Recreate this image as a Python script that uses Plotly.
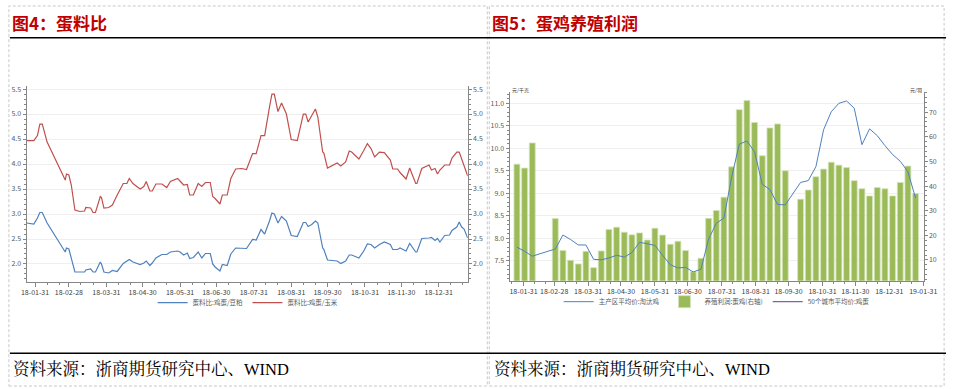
import plotly.graph_objects as go

# ---------------- data: 图4 蛋料比 ----------------
ratio_dates = [
    '2018-01-24', '2018-01-30', '2018-02-02', '2018-02-04', '2018-02-06', '2018-02-10', '2018-02-25', '2018-02-26', '2018-02-28', '2018-03-02',
    '2018-03-05', '2018-03-09', '2018-03-13', '2018-03-14', '2018-03-18', '2018-03-20', '2018-03-22', '2018-03-26', '2018-03-27', '2018-03-29',
    '2018-04-02', '2018-04-05', '2018-04-09', '2018-04-14', '2018-04-17', '2018-04-19', '2018-04-22', '2018-04-25', '2018-04-28', '2018-05-01',
    '2018-05-03', '2018-05-06', '2018-05-08', '2018-05-11', '2018-05-16', '2018-05-20', '2018-05-23', '2018-05-29', '2018-05-31', '2018-06-03',
    '2018-06-06', '2018-06-08', '2018-06-11', '2018-06-15', '2018-06-18', '2018-06-21', '2018-06-25', '2018-06-27', '2018-06-29', '2018-07-03',
    '2018-07-05', '2018-07-09', '2018-07-12', '2018-07-16', '2018-07-21', '2018-07-25', '2018-07-30', '2018-08-02', '2018-08-06', '2018-08-09',
    '2018-08-13', '2018-08-15', '2018-08-17', '2018-08-20', '2018-08-23', '2018-08-27', '2018-08-31', '2018-09-05', '2018-09-10', '2018-09-12',
    '2018-09-14', '2018-09-17', '2018-09-20', '2018-09-22', '2018-09-26', '2018-09-27', '2018-09-30', '2018-10-08', '2018-10-11', '2018-10-15',
    '2018-10-18', '2018-10-20', '2018-10-26', '2018-10-30', '2018-11-02', '2018-11-05', '2018-11-08', '2018-11-12', '2018-11-16', '2018-11-21',
    '2018-11-23', '2018-11-27', '2018-11-29', '2018-12-04', '2018-12-07', '2018-12-12', '2018-12-13', '2018-12-17', '2018-12-23', '2018-12-25',
    '2018-12-28', '2018-12-30', '2019-01-01', '2019-01-05', '2019-01-09', '2019-01-11', '2019-01-15', '2019-01-17', '2019-01-19', '2019-01-21',
    '2019-01-24']

ratio_egg_soymeal = [
    2.82, 2.80, 2.92, 3.03, 3.03, 2.82, 2.24, 2.32, 2.30, 2.10,
    1.84, 1.84, 1.84, 1.88, 1.90, 1.84, 1.84, 2.04, 2.00, 1.84,
    1.82, 1.87, 1.85, 2.01, 2.05, 2.09, 2.04, 2.02, 1.99, 2.02,
    2.06, 1.97, 2.02, 2.12, 2.19, 2.19, 2.24, 2.26, 2.24, 2.18,
    2.22, 2.11, 2.13, 2.24, 2.12, 2.21, 2.21, 2.00, 1.94, 1.86,
    1.99, 1.97, 2.20, 2.32, 2.32, 2.31, 2.49, 2.48, 2.69, 2.60,
    2.86, 3.02, 3.00, 2.82, 2.95, 2.86, 2.57, 2.55, 2.83, 2.83,
    2.75, 2.79, 2.86, 2.82, 2.32, 2.29, 2.08, 2.06, 2.01, 2.06,
    2.18, 2.18, 2.12, 2.26, 2.40, 2.39, 2.32, 2.39, 2.44, 2.39,
    2.29, 2.29, 2.32, 2.26, 2.41, 2.24, 2.24, 2.51, 2.52, 2.53,
    2.47, 2.51, 2.44, 2.57, 2.58, 2.67, 2.74, 2.84, 2.74, 2.70,
    2.52]

ratio_egg_corn = [
    4.47, 4.47, 4.57, 4.80, 4.80, 4.44, 3.68, 3.80, 3.78, 3.58,
    3.08, 3.05, 3.06, 3.13, 3.12, 3.03, 3.03, 3.35, 3.33, 3.12,
    3.13, 3.18, 3.38, 3.61, 3.61, 3.71, 3.61, 3.55, 3.50, 3.55,
    3.65, 3.46, 3.46, 3.60, 3.60, 3.53, 3.65, 3.71, 3.66, 3.58,
    3.59, 3.38, 3.38, 3.61, 3.55, 3.63, 3.63, 3.35, 3.31, 3.20,
    3.38, 3.38, 3.71, 3.90, 3.91, 3.89, 4.21, 4.21, 4.57, 4.57,
    5.14, 5.40, 5.40, 5.05, 5.22, 5.00, 4.49, 4.47, 5.00, 5.00,
    4.84, 4.97, 5.10, 4.94, 4.24, 4.22, 3.92, 4.02, 3.96, 4.04,
    4.26, 4.24, 4.10, 4.27, 4.41, 4.31, 4.14, 4.24, 4.23, 4.08,
    3.90, 3.90, 3.83, 3.70, 3.92, 3.61, 3.61, 3.91, 3.98, 3.88,
    3.91, 3.80, 3.88, 3.98, 3.98, 4.12, 4.24, 4.24, 4.11, 3.98,
    3.76]

# ---------------- data: 图5 蛋鸡养殖利润 ----------------
profit_dates = [
    '2018-01-25', '2018-02-01', '2018-02-08',
    '2018-03-01', '2018-03-08', '2018-03-15', '2018-03-22', '2018-03-29',
    '2018-04-05', '2018-04-12', '2018-04-19', '2018-04-26',
    '2018-05-03', '2018-05-10', '2018-05-17', '2018-05-24', '2018-05-31',
    '2018-06-07', '2018-06-14', '2018-06-21', '2018-06-28',
    '2018-07-05', '2018-07-12', '2018-07-19', '2018-07-26',
    '2018-08-02', '2018-08-09', '2018-08-16', '2018-08-23', '2018-08-30',
    '2018-09-06', '2018-09-13', '2018-09-20', '2018-09-27',
    '2018-10-11', '2018-10-18', '2018-10-25',
    '2018-11-01', '2018-11-08', '2018-11-15', '2018-11-22', '2018-11-29',
    '2018-12-06', '2018-12-13', '2018-12-20', '2018-12-27',
    '2019-01-03', '2019-01-10', '2019-01-17', '2019-01-24']
profit_layer = [
    48.9, 47.3, 57.5,
    26.8, 13.9, 9.9, 8.4, 13.5,
    6.9, 13.7, 22.4, 23.3,
    21.3, 20.2, 21.0, 18.1, 22.9,
    20.1, 16.4, 17.6, 13.9,
    5.2, 10.7, 26.9, 30.1,
    35.5, 47.8, 71.0, 74.7, 65.8,
    52.3, 63.6, 65.2, 46.2,
    34.7, 38.4, 43.8,
    46.9, 49.7, 48.5, 47.5, 42.2,
    38.9, 36.0, 39.4, 38.9,
    36.0, 41.5, 48.1, 37.0]

cull_dates = [
    '2018-01-25', '2018-02-01', '2018-02-08',
    '2018-03-01', '2018-03-08', '2018-03-15', '2018-03-22', '2018-03-29',
    '2018-04-05', '2018-04-12', '2018-04-19', '2018-04-26',
    '2018-05-03', '2018-05-10', '2018-05-17', '2018-05-24', '2018-05-31',
    '2018-06-07', '2018-06-14', '2018-06-21', '2018-06-28',
    '2018-07-05', '2018-07-12', '2018-07-19', '2018-07-26',
    '2018-08-02', '2018-08-09', '2018-08-16', '2018-08-23', '2018-08-30',
    '2018-09-06', '2018-09-13', '2018-09-20', '2018-09-27',
    '2018-10-04', '2018-10-11', '2018-10-18', '2018-10-25',
    '2018-11-01', '2018-11-08', '2018-11-15', '2018-11-22', '2018-11-29',
    '2018-12-06', '2018-12-13', '2018-12-20', '2018-12-27',
    '2019-01-03', '2019-01-10', '2019-01-17', '2019-01-24']
cull_hen_price = [
    7.80, 7.71, 7.60,
    7.76, 8.07, 7.97, 7.85, 7.85,
    7.53, 7.52, 7.56, 7.62,
    7.58, 7.68, 7.91, 7.87, 7.84,
    7.62, 7.41, 7.34, 7.35,
    7.25, 7.31, 7.98, 8.33,
    8.45, 9.35, 10.09, 10.16, 9.92,
    9.20, 9.08, 8.75, 8.74,
    8.98, 9.24, 9.28, 9.59,
    10.41, 10.81, 11.00, 11.05, 10.89,
    10.08, 10.43, 10.28, 10.06,
    9.86, 9.71, 9.48, 8.89]

egg50_dates = []
egg50_price = []

left_ticks = ['2018-01-31', '2018-02-28', '2018-03-31', '2018-04-30', '2018-05-31', '2018-06-30',
              '2018-07-31', '2018-08-31', '2018-09-30', '2018-10-31', '2018-11-30', '2018-12-31']
right_ticks = left_ticks + ['2019-01-31']

# ---------------- layout helpers ----------------
W, H = 963, 389
def px(x):
    return x / W
def py(y):
    return 1 - y / H

months = [(2018, m) for m in range(1, 13)] + [(2019, 1)]
minor_vals = ['%d-%02d-%02d' % (yy, mm, dd) for yy, mm in months for dd in (10, 20)]

AX = '#868686'
TICKFONT_X = dict(family='Noto Sans CJK SC', size=7, color='#404040')
TICKFONT_Y = dict(family='Noto Sans CJK SC', size=7, color='#595959')
GRID = '#EFEFEF'

fig = go.Figure()

# left chart
fig.add_trace(go.Scatter(x=ratio_dates, y=ratio_egg_soymeal, name='蛋料比:鸡蛋/豆粕', mode='lines',
                         line=dict(color='#4F81BD', width=1.2), xaxis='x', yaxis='y', legend='legend'))
fig.add_trace(go.Scatter(x=ratio_dates, y=ratio_egg_corn, name='蛋料比:鸡蛋/玉米', mode='lines',
                         line=dict(color='#C0504D', width=1.2), xaxis='x', yaxis='y2', legend='legend'))

# right chart
fig.add_trace(go.Scatter(x=cull_dates, y=cull_hen_price, name='主产区平均价:淘汰鸡', mode='lines',
                         line=dict(color='#4F81BD', width=1.0), xaxis='x2', yaxis='y4', legend='legend2'))
fig.add_trace(go.Bar(x=profit_dates, y=profit_layer, name='养殖利润:蛋鸡(右轴)',
                     marker=dict(color='#9BBB59', line=dict(color='#D5E3BC', width=0.8)),
                     width=5.4 * 86400000, xaxis='x2', yaxis='y3', legend='legend2'))
fig.add_trace(go.Scatter(x=egg50_dates or [None], y=egg50_price or [None], name='50个城市平均价:鸡蛋', mode='lines',
                         line=dict(color='#8064A2', width=1.2), xaxis='x2', yaxis='y4', legend='legend2'))

xcommon = dict(type='date', tickformat='%y-%m-%d', ticks='outside', ticklen=4, tickcolor=AX,
               showline=True, linecolor=AX, linewidth=1, showgrid=False, zeroline=False,
               tickfont=TICKFONT_X, tickangle=0,
               minor=dict(tickmode='array', tickvals=minor_vals, ticks='outside', ticklen=2, tickcolor=AX, showgrid=False))
ycommon = dict(ticks='outside', ticklen=3, tickcolor=AX, showline=True, linecolor=AX, linewidth=1,
               zeroline=False, tickfont=TICKFONT_Y)

fig.update_layout(
    width=W, height=H, autosize=False,
    margin=dict(l=0, r=0, t=0, b=0),
    paper_bgcolor='white', plot_bgcolor='white',
    showlegend=True, barmode='overlay',
    xaxis=dict(domain=[px(22), px(472)], anchor='y', range=['2018-01-24', '2019-01-24'],
               tickmode='array', tickvals=left_ticks, **xcommon),
    yaxis=dict(domain=[py(281), py(84)], anchor='x', range=[1.643, 5.554], tickmode='linear', tick0=0, dtick=0.5,
               tickformat='.1f', showgrid=True, gridcolor=GRID, gridwidth=1,
               minor=dict(dtick=0.1, tick0=0, ticks='outside', ticklen=2, tickcolor=AX, showgrid=False), **ycommon),
    yaxis2=dict(overlaying='y', side='right', anchor='x', range=[1.643, 5.554], tickmode='linear', tick0=0, dtick=0.5,
                tickformat='.1f', showgrid=False,
                minor=dict(dtick=0.1, tick0=0, ticks='outside', ticklen=2, tickcolor=AX, showgrid=False), **ycommon),
    xaxis2=dict(domain=[px(514.7), px(937)], anchor='y3', range=['2018-01-18 06:00', '2019-01-31 06:00'],
                tickmode='array', tickvals=right_ticks, **xcommon),
    yaxis3=dict(domain=[py(280), py(90)], anchor='x2', side='right', range=[1.54, 78.05], tickmode='linear',
                tick0=0, dtick=10, showgrid=False,
                minor=dict(dtick=2, tick0=0, ticks='outside', ticklen=2, tickcolor=AX, showgrid=False), **ycommon),
    yaxis4=dict(overlaying='y3', side='left', anchor='x2', range=[7.052, 11.243], tickmode='linear', tick0=0,
                dtick=0.5, tickformat='.1f', showgrid=True, gridcolor=GRID, gridwidth=1,
                minor=dict(dtick=0.1, tick0=0, ticks='outside', ticklen=2, tickcolor=AX, showgrid=False), **ycommon),
    legend=dict(x=px(248), y=py(302), xanchor='center', yanchor='middle', orientation='h',
                font=dict(family='Noto Sans CJK SC', size=6.5, color='#595959'), bgcolor='rgba(0,0,0,0)',
                itemwidth=30, tracegroupgap=0),
    legend2=dict(x=px(726), y=py(301), xanchor='center', yanchor='middle', orientation='h',
                 font=dict(family='Noto Sans CJK SC', size=6.5, color='#595959'), bgcolor='rgba(0,0,0,0)',
                 itemwidth=30, tracegroupgap=0),
)

shapes = []
# dashed panel borders
for x0, x1 in [(4, 492), (494, 958)]:
    shapes.append(dict(type='rect', xref='paper', yref='paper', x0=px(x0), x1=px(x1), y0=py(386), y1=py(3),
                       line=dict(color='#C8C8C8', width=1, dash='3px,2px'), fillcolor='rgba(0,0,0,0)', layer='below'))
# black rules
for yy in (35, 353):
    shapes.append(dict(type='line', xref='paper', yref='paper', x0=px(5), x1=px(960), y0=py(yy), y1=py(yy),
                       line=dict(color='black', width=1.5)))
fig.update_layout(shapes=shapes)

TITLE_FONT = dict(family='Noto Sans CJK SC', size=17, color='#C00000')
SRC_FONT = dict(family='Liberation Serif, Noto Serif CJK SC, Noto Sans CJK SC', size=16.5, color='black')
annotations = [
    dict(text='<b>图4：蛋料比</b>', x=px(5), y=py(20), xanchor='left', yanchor='middle', font=TITLE_FONT),
    dict(text='<b>图5：蛋鸡养殖利润</b>', x=px(495), y=py(20), xanchor='left', yanchor='middle', font=TITLE_FONT),
    dict(text='资料来源：浙商期货研究中心、WIND', x=px(6), y=py(369), xanchor='left', yanchor='middle', font=SRC_FONT),
    dict(text='资料来源：浙商期货研究中心、WIND', x=px(497), y=py(369), xanchor='left', yanchor='middle', font=SRC_FONT),
    dict(text='元/千克', x=px(515), y=py(88), xanchor='left', yanchor='middle',
         font=dict(family='Noto Sans CJK SC', size=5, color='#404040')),
    dict(text='元/羽', x=px(937), y=py(88), xanchor='right', yanchor='middle',
         font=dict(family='Noto Sans CJK SC', size=5, color='#404040')),
]
for a in annotations:
    a.update(xref='paper', yref='paper', showarrow=False)
fig.update_layout(annotations=annotations)

# remove the browser's default page margin so the 963x389 figure fills the window exactly
page_fix = ("document.documentElement.style.margin='0';document.body.style.margin='0';"
            "document.body.style.padding='0';document.body.style.overflow='hidden';")

fig.write_html('out.html', config={'displayModeBar': False}, post_script=page_fix)
